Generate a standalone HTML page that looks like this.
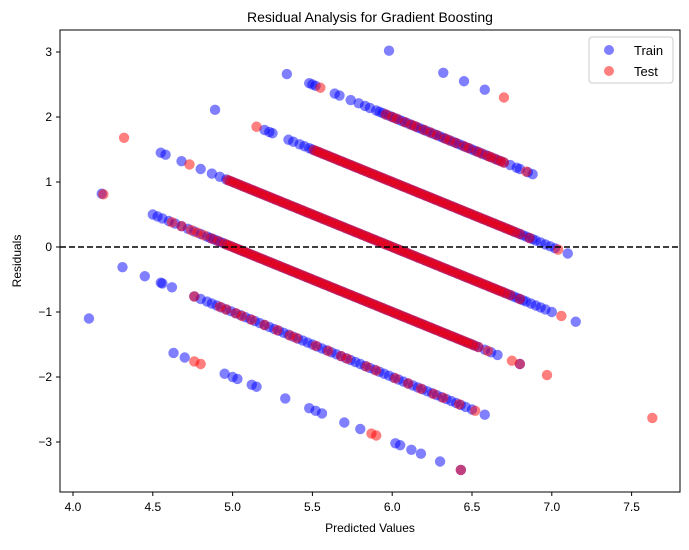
<!DOCTYPE html>
<html><head><meta charset="utf-8"><style>
body{margin:0;background:#fff;}
svg{font-family:"Liberation Sans","DejaVu Sans",sans-serif;}
</style></head><body>
<svg id="chart" width="689" height="545" viewBox="0 0 689 545">
<rect width="689" height="545" fill="#fff"/>
<text x="370" y="22" text-anchor="middle" font-size="14">Residual Analysis for Gradient Boosting</text>
<g id="marks"></g>
<rect x="60" y="30" width="620" height="462" fill="none" stroke="#000" stroke-width="1"/>
<g id="axes"></g>
<text x="370" y="532" text-anchor="middle" font-size="12">Predicted Values</text>
<text transform="translate(21,261) rotate(-90)" text-anchor="middle" font-size="12">Residuals</text>
<g>
<rect x="589" y="37" width="84" height="46" rx="3" fill="#fff" fill-opacity="0.8" stroke="#ccc"/>
<circle cx="609" cy="50" r="5" fill="rgba(0,0,255,0.5)"/>
<text x="634" y="55" font-size="13">Train</text>
<circle cx="609" cy="71" r="5" fill="rgba(255,0,0,0.5)"/>
<text x="634" y="76" font-size="13">Test</text>
</g>
</svg>
<script>
// predicted values grouped by actual target value (residual = actual - predicted)
const dense8 = [5.94,5.96,5.98,6.00,6.02,6.04,6.06,6.08,6.10,6.12,6.14,6.16,6.18,6.20,6.22,6.24,6.26,6.28,6.30,6.32,6.34,6.36,6.38,6.40,6.42,6.44,6.46,6.48,6.50,6.52,6.54,6.56,6.58,6.60,6.62,6.64,6.66,6.68];
const dense7 = [5.48,5.50,5.52,5.54,5.56,5.58,5.60,5.62,5.64,5.66,5.68,5.70,5.72,5.74,5.76,5.78,5.80,5.82,5.84,5.86,5.88,5.90,5.92,5.94,5.96,5.98,6.00,6.02,6.04,6.06,6.08,6.10,6.12,6.14,6.16,6.18,6.20,6.22,6.24,6.26,6.28,6.30,6.32,6.34,6.36,6.38,6.40,6.42,6.44,6.46,6.48,6.50,6.52,6.54,6.56,6.58,6.60,6.62,6.64,6.66,6.68,6.70,6.72,6.74,6.76,6.78,6.80,6.82,6.84,6.86,6.88];
const dense6 = [4.96,4.98,5.00,5.02,5.04,5.06,5.08,5.10,5.12,5.14,5.16,5.18,5.20,5.22,5.24,5.26,5.28,5.30,5.32,5.34,5.36,5.38,5.40,5.42,5.44,5.46,5.48,5.50,5.52,5.54,5.56,5.58,5.60,5.62,5.64,5.66,5.68,5.70,5.72,5.74,5.76,5.78,5.80,5.82,5.84,5.86,5.88,5.90,5.92,5.94,5.96,5.98,6.00,6.02,6.04,6.06,6.08,6.10,6.12,6.14,6.16,6.18,6.20,6.22,6.24,6.26,6.28,6.30,6.32,6.34,6.36,6.38,6.40,6.42,6.44,6.46,6.48,6.50,6.52,6.54,6.56,6.58,6.60,6.62,6.64,6.66,6.68,6.70,6.72,6.74,6.76,6.78,6.80,6.82];
const dense5 = [4.84,4.86,4.88,4.90,4.92,4.94,4.96,4.98,5.00,5.02,5.04,5.06,5.08,5.10,5.12,5.14,5.16,5.18,5.20,5.22,5.24,5.26,5.28,5.30,5.32,5.34,5.36,5.38,5.40,5.42,5.44,5.46,5.48,5.50,5.52,5.54,5.56,5.58,5.60,5.62,5.64,5.66,5.68,5.70,5.72,5.74,5.76,5.78,5.80,5.82,5.84,5.86,5.88,5.90,5.92,5.94,5.96,5.98,6.00,6.02,6.04,6.06,6.08,6.10,6.12,6.14,6.16,6.18,6.20,6.22,6.24,6.26,6.28,6.30,6.32,6.34,6.36,6.38,6.40,6.42,6.44,6.46,6.48,6.50,6.52];
const train9 = [5.98,6.32,6.45,6.58];
const train8 = [5.34,5.48,5.50,5.52,5.64,5.67,5.74,5.79,5.83,5.86,5.90,5.92,6.70,6.74,6.78,6.80,6.85,6.88];
const train7 = [4.89,5.20,5.23,5.25,5.35,5.38,5.42,5.45,6.90,6.93,6.96,6.99,7.02,7.10];
const train6 = [4.55,4.58,4.68,4.80,4.87,4.92,6.84,6.87,6.90,6.93,6.96,7.00,7.15];
const train5 = [4.18,4.50,4.53,4.56,4.60,4.64,4.68,4.72,4.76,4.80,6.54,6.58,6.62,6.66,6.80];
const train4 = [4.31,4.45,4.55,4.56,4.62,4.76,4.80,4.84,4.87,4.90,4.93,4.96,4.99,5.02,5.05,5.08,5.11,5.14,5.17,5.20,5.23,5.26,5.29,5.32,5.35,5.38,5.41,5.44,5.47,5.50,5.53,5.56,5.59,5.62,5.65,5.68,5.71,5.74,5.77,5.80,5.83,5.86,5.89,5.92,5.95,5.98,6.01,6.04,6.07,6.10,6.13,6.16,6.19,6.22,6.25,6.28,6.31,6.34,6.37,6.40,6.43,6.46,6.50,6.58];
const train3 = [4.10,4.63,4.70,4.95,5.00,5.03,5.12,5.15,5.33,5.48,5.52,5.56,5.70,5.80,6.02,6.05,6.12,6.18,6.30,6.43];
const test9 = [6.70];
const test8 = [5.55,5.96,6.00,6.03,6.08,6.12,6.15,6.20,6.24,6.28,6.33,6.36,6.40,6.45,6.48,6.53,6.56,6.60,6.62,6.65,6.68,6.70,6.84];
const test7 = [5.15,5.51,5.53,5.55,5.57,5.59,5.61,5.63,5.65,5.67,5.69,5.71,5.73,5.75,5.77,5.79,5.81,5.83,5.85,5.87,5.89,5.91,5.93,5.95,5.97,5.99,6.01,6.03,6.05,6.07,6.09,6.11,6.13,6.15,6.17,6.19,6.21,6.23,6.25,6.27,6.29,6.31,6.33,6.35,6.37,6.39,6.41,6.43,6.45,6.47,6.49,6.51,6.53,6.55,6.57,6.59,6.61,6.63,6.65,6.67,6.69,6.71,6.73,6.75,6.77,6.80,6.86,7.04];
const test6 = [4.32,4.73,4.97,4.99,5.01,5.03,5.05,5.07,5.09,5.11,5.13,5.15,5.17,5.19,5.21,5.23,5.25,5.27,5.29,5.31,5.33,5.35,5.37,5.39,5.41,5.43,5.45,5.47,5.49,5.51,5.53,5.55,5.57,5.59,5.61,5.63,5.65,5.67,5.69,5.71,5.73,5.75,5.77,5.79,5.81,5.83,5.85,5.87,5.89,5.91,5.93,5.95,5.97,5.99,6.01,6.03,6.05,6.07,6.09,6.11,6.13,6.15,6.17,6.19,6.21,6.23,6.25,6.27,6.29,6.31,6.33,6.35,6.37,6.39,6.41,6.43,6.45,6.47,6.49,6.51,6.53,6.55,6.57,6.59,6.61,6.63,6.65,6.67,6.69,6.71,6.74,6.80,7.06];
const test5 = [4.19,4.62,4.68,4.74,4.78,4.82,4.87,4.91,4.95,4.97,4.99,5.01,5.03,5.05,5.07,5.09,5.11,5.13,5.15,5.17,5.19,5.21,5.23,5.25,5.27,5.29,5.31,5.33,5.35,5.37,5.39,5.41,5.43,5.45,5.47,5.49,5.51,5.53,5.55,5.57,5.59,5.61,5.63,5.65,5.67,5.69,5.71,5.73,5.75,5.77,5.79,5.81,5.83,5.85,5.87,5.89,5.91,5.93,5.95,5.97,5.99,6.01,6.03,6.05,6.07,6.09,6.11,6.13,6.15,6.17,6.19,6.21,6.23,6.25,6.27,6.29,6.31,6.33,6.35,6.37,6.39,6.41,6.43,6.45,6.47,6.49,6.51,6.54,6.60,6.75,6.80,6.97,7.63];
const test4 = [4.76,4.92,4.96,5.02,5.06,5.12,5.20,5.28,5.36,5.40,5.52,5.60,5.68,5.72,5.84,5.90,6.02,6.10,6.18,6.26,6.32,6.42,6.52];
const test3 = [4.76,4.80,5.87,5.90,6.43];
const xTicks = [4.0,4.5,5.0,5.5,6.0,6.5,7.0,7.5];
const yTicks = [-3,-2,-1,0,1,2,3];

const X = v => 73 + (v - 4) * 159.6;
const Y = v => 247 - v * 65;
const NS = 'http://www.w3.org/2000/svg';
const marks = document.getElementById('marks');
const axes = document.getElementById('axes');

function draw(preds, actual, color, name) {
  preds.forEach(p => {
    const c = document.createElementNS(NS, 'circle');
    
    
    c.setAttribute('cx', X(p));
    c.setAttribute('cy', Y(actual - p));
    c.setAttribute('r', 5.2);
    c.setAttribute('fill', color);
    marks.appendChild(c);
  });
}
const blue = 'rgba(0,0,255,0.5)', red = 'rgba(255,0,0,0.5)';
[[dense8,8],[dense7,7],[dense6,6],[dense5,5],[train9,9],[train8,8],[train7,7],[train6,6],[train5,5],[train4,4],[train3,3]]
  .forEach(([a,k]) => draw(a, k, blue, 'train-point'));
[[test9,9],[test8,8],[test7,7],[test6,6],[test5,5],[test4,4],[test3,3]]
  .forEach(([a,k]) => draw(a, k, red, 'test-point'));
const zl = document.createElementNS(NS, 'line');


zl.setAttribute('x1', 60); zl.setAttribute('x2', 680);
zl.setAttribute('y1', Y(0)); zl.setAttribute('y2', Y(0));
zl.setAttribute('stroke', '#000'); zl.setAttribute('stroke-width', 1.6);
zl.setAttribute('stroke-dasharray', '6,3');
marks.appendChild(zl);

xTicks.forEach(t => {
  const l = document.createElementNS(NS, 'line');
  
  
  l.setAttribute('x1', X(t)); l.setAttribute('x2', X(t));
  l.setAttribute('y1', 492); l.setAttribute('y2', 496);
  l.setAttribute('stroke', '#000');
  axes.appendChild(l);
  const s = document.createElementNS(NS, 'text');
  
  
  s.setAttribute('x', X(t)); s.setAttribute('y', 511);
  s.setAttribute('text-anchor', 'middle'); s.setAttribute('font-size', 12);
  s.textContent = t.toFixed(1);
  axes.appendChild(s);
});
yTicks.forEach(t => {
  const l = document.createElementNS(NS, 'line');
  
  
  l.setAttribute('x1', 56); l.setAttribute('x2', 60);
  l.setAttribute('y1', Y(t)); l.setAttribute('y2', Y(t));
  l.setAttribute('stroke', '#000');
  axes.appendChild(l);
  const s = document.createElementNS(NS, 'text');
  
  
  s.setAttribute('x', 52); s.setAttribute('y', Y(t) + 4);
  s.setAttribute('text-anchor', 'end'); s.setAttribute('font-size', 12);
  s.textContent = t < 0 ? '\u2212' + Math.abs(t) : String(t);
  axes.appendChild(s);
});
</script>
</body></html>
